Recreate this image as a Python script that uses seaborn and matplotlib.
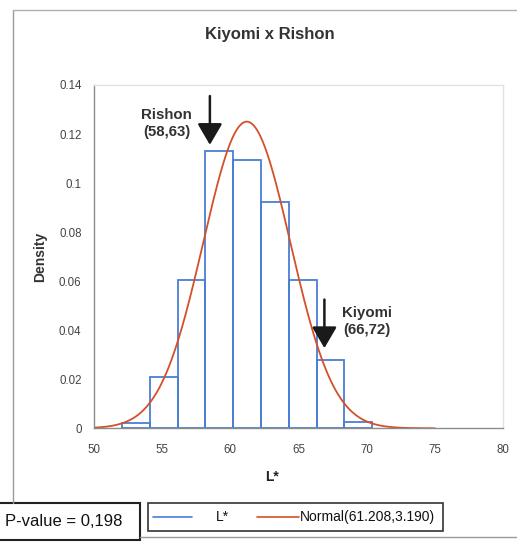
import numpy as np
import pandas as pd
import matplotlib
matplotlib.use("Agg")
import matplotlib.pyplot as plt
from matplotlib.lines import Line2D
from matplotlib.patches import Rectangle
import seaborn as sns

# ---- data ----
bin_edges = [52.05, 54.09, 56.13, 58.17, 60.21, 62.25, 64.29, 66.33, 68.37, 70.41]
bin_density = [0.0022, 0.0209, 0.0605, 0.1132, 0.1095, 0.0922, 0.0605, 0.0280, 0.0026]
norm_mean = 61.208
norm_sd = 3.190
curve_range = [50, 75]
x_ticks = [50, 55, 60, 65, 70, 75, 80]
y_ticks = [0, 0.02, 0.04, 0.06, 0.08, 0.10, 0.12, 0.14]
title = "Kiyomi x Rishon"
legend_hist = "L*"
legend_norm = "Normal(61.208,3.190)"
pvalue_text = "P-value = 0,198"
annot_rishon = ("Rishon\n(58,63)", 58.5)
annot_kiyomi = ("Kiyomi\n(66,72)", 66.9)

BLUE = "#4a7ed6"
RED = "#d4502a"
GRAY = "#8c8c8c"

sns.set_theme(style="white")
plt.rcParams["font.family"] = ["Liberation Sans", "DejaVu Sans"]

W, H = 517, 543
fig = plt.figure(figsize=(W / 100, H / 100), dpi=100)
ax = fig.add_axes([94 / W, 1 - 428.3 / H, (503 - 94) / W, (428.3 - 85) / H])

centers = [(a + b) / 2 for a, b in zip(bin_edges[:-1], bin_edges[1:])]
hist_df = pd.DataFrame({"x": centers, "w": bin_density})
sns.histplot(data=hist_df, x="x", weights="w", bins=bin_edges, stat="count",
             fill=False, color=BLUE, edgecolor=BLUE, linewidth=1.3, ax=ax)
for p in ax.patches:
    p.set_edgecolor(BLUE)

xs = np.linspace(curve_range[0], curve_range[1], 400)
pdf = np.exp(-0.5 * ((xs - norm_mean) / norm_sd) ** 2) / (norm_sd * np.sqrt(2 * np.pi))
curve_df = pd.DataFrame({"x": xs, "y": pdf})
sns.lineplot(data=curve_df, x="x", y="y", color=RED, linewidth=1.3, ax=ax)

ax.set_xlim(50, 80)
ax.set_ylim(0, 0.14)
ax.set_xticks(x_ticks)
ax.set_yticks(y_ticks)
ax.set_yticklabels(["%g" % v for v in y_ticks])
ax.set_xlabel("")
ax.set_ylabel("")
ax.tick_params(axis="both", direction="inout", length=6, width=0.8, color=GRAY,
               labelsize=8.3, labelcolor="#444444")
ax.tick_params(axis="x", pad=8)
ax.tick_params(axis="y", pad=6)
for s in ["left", "bottom"]:
    ax.spines[s].set_color(GRAY)
    ax.spines[s].set_linewidth(1.0)
for s in ["top", "right"]:
    ax.spines[s].set_color("#e2e2e2")
    ax.spines[s].set_linewidth(1.0)

# annotations
arrow_kw = dict(arrowstyle="-|>,head_length=0.65,head_width=0.38", color="#1a1a1a",
                lw=1.8, mutation_scale=20, shrinkA=0, shrinkB=0)
ax.annotate("", xy=(annot_rishon[1], 0.1156), xytext=(annot_rishon[1], 0.1355),
            arrowprops=arrow_kw)
ax.text(55.33, 0.1242, annot_rishon[0], ha="center", va="center", fontsize=10.8,
        fontweight="bold", color="#333333", linespacing=1.25)
ax.annotate("", xy=(annot_kiyomi[1], 0.0327), xytext=(annot_kiyomi[1], 0.0525),
            arrowprops=arrow_kw)
ax.text(70.03, 0.0435, annot_kiyomi[0], ha="center", va="center", fontsize=10.8,
        fontweight="bold", color="#333333", linespacing=1.25)

# titles and labels
fig.text(270 / W, 1 - 35 / H, title, ha="center", va="center", fontsize=12,
         fontweight="bold", color="#333333")
fig.text(272 / W, 1 - 477 / H, "L*", ha="center", va="center", fontsize=10,
         fontweight="bold", color="#222222")
fig.text(40 / W, 1 - 257 / H, "Density", ha="center", va="center", fontsize=10,
         fontweight="bold", color="#333333", rotation=90)

# outer frame
def fx(px):
    return px / W

def fy(py):
    return 1 - py / H

fig.add_artist(Line2D([fx(13), fx(13)], [fy(10), fy(503)], color="#9a9a9a", lw=1.0))
fig.add_artist(Line2D([fx(13), fx(517)], [fy(10), fy(10)], color="#b0b0b0", lw=1.0))
fig.add_artist(Line2D([fx(140), fx(517)], [fy(537), fy(537)], color="#9a9a9a", lw=1.0))

# p-value box
fig.add_artist(Rectangle((fx(-3), fy(540)), fx(143), (540 - 503) / H, fill=True,
                         facecolor="white", edgecolor="#222222", lw=1.5))
fig.text(fx(64), fy(522), pvalue_text, ha="center", va="center", fontsize=12,
         color="#111111")

# legend box
fig.add_artist(Rectangle((fx(148), fy(531)), (443 - 148) / W, (531 - 503) / H,
                         fill=False, edgecolor="#333333", lw=1.2))
fig.add_artist(Line2D([fx(153), fx(192)], [fy(517), fy(517)], color=BLUE, lw=1.2))
fig.text(fx(222), fy(517), legend_hist, ha="center", va="center", fontsize=10,
         color="#111111")
fig.add_artist(Line2D([fx(257), fx(299)], [fy(517), fy(517)], color=RED, lw=1.2))
fig.text(fx(300), fy(517), legend_norm, ha="left", va="center", fontsize=10,
         color="#111111")

fig.savefig("out.png", dpi=100)
